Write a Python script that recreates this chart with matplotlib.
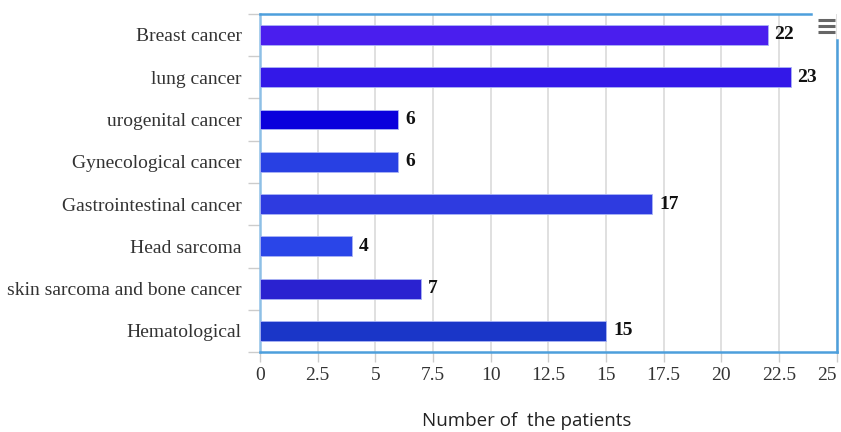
import matplotlib.pyplot as plt
from matplotlib.lines import Line2D
import numpy as np

categories = ['Breast cancer', 'lung cancer', 'urogenital cancer', 'Gynecological cancer',
              'Gastrointestinal cancer', 'Head sarcoma', 'skin sarcoma and bone cancer', 'Hematological']
patients = [22, 23, 6, 6, 17, 4, 7, 15]
colors = ['#4a1eee', '#3318e8', '#0a00dc', '#2840e3', '#2e3be0', '#2a45e8', '#2a22d0', '#1a36c8']
xticks = [0, 2.5, 5, 7.5, 10, 12.5, 15, 17.5, 20, 22.5, 25]
xticklabels = ['0', '2.5', '5', '7.5', '10', '12.5', '15', '17.5', '20', '22.5', '25']

serif = 'Liberation Serif'
border = '#4d9fdc'

fig = plt.figure(figsize=(8.41, 4.32), dpi=100)
ax = fig.add_axes([0.309, 0.185, 0.686, 0.783])

y = np.arange(len(categories))
ax.barh(y, patients, height=0.47, color=colors, edgecolor='#aab4f5', linewidth=0.6, zorder=3)
for yi, v in zip(y, patients):
    ax.text(v + 0.3, yi, str(v), va='center', ha='left', fontsize=14, fontweight='bold',
            family=serif, color='#111111', zorder=4)

ax.set_xlim(0, 25)
ax.set_ylim(7.5, -0.5)
ax.set_yticks(y)
ax.set_yticklabels(categories, family=serif, fontsize=14, color='#333333')
ax.set_yticks(np.arange(-0.5, 8, 1), minor=True)
ax.tick_params(axis='y', which='major', length=0, pad=13)
ax.tick_params(axis='y', which='minor', length=9, color='#cccccc', width=1)
ax.set_xticks(xticks)
ax.set_xticklabels(xticklabels, family=serif, fontsize=14, color='#333333')
ax.get_xticklabels()[-1].set_horizontalalignment('right')
ax.tick_params(axis='x', length=7, color='#cccccc', width=1, pad=4)

ax.grid(axis='x', color='#dddddd', linewidth=1.3, zorder=0)
ax.set_axisbelow(True)

for s in ax.spines.values():
    s.set_color(border)
    s.set_linewidth(1.8)
ax.spines['left'].set_color('#8ec0e6')
ax.spines['top'].set_bounds(0, 23.9)
ax.spines['right'].set_bounds(0.12, 7.5)

# menu icon
for yy in [20, 26, 32]:
    fig.add_artist(Line2D([818 / 841, 835 / 841], [1 - yy / 432, 1 - yy / 432],
                          color='#666666', linewidth=2.2, solid_capstyle='butt'))

fig.text(527 / 841, 1 - 426 / 432, 'Number of  the patients', ha='center', va='baseline',
         family='Open Sans', fontsize=13.5, color='#222222')

fig.savefig('out.png', dpi=100)
